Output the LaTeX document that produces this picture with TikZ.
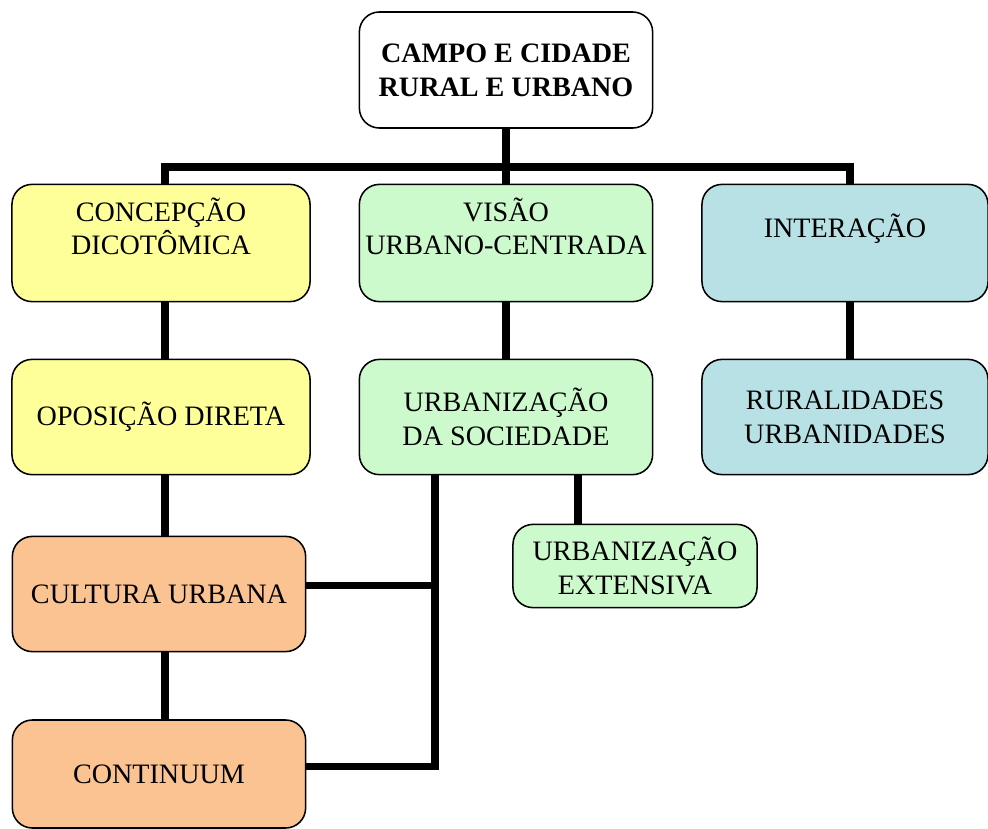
\documentclass[tikz,border=0pt]{standalone}
\usepackage{fontspec}
\setmainfont{Liberation Serif}
\usepackage{xcolor}
\usepackage{tikz}

\definecolor{amarelo}{RGB}{255,255,153}
\definecolor{verde}{RGB}{204,250,204}
\definecolor{azul}{RGB}{183,225,228}
\definecolor{laranja}{RGB}{250,195,145}

\begin{document}
\begin{tikzpicture}[x=0.025cm, y=-0.025cm,
    caixa/.style={draw=black, line width=1.1pt, rounded corners=0.5cm,
      align=center, inner sep=0pt, font=\fontsize{20}{24}\selectfont,
      minimum width=7.33cm, minimum height=2.88cm},
    liga/.style={line width=5pt}]
\useasboundingbox (0,0) rectangle (988,829);
% topo
\node[caixa, fill=white, font=\fontsize{20}{24}\selectfont\bfseries,
      minimum height=2.9cm] (topo) at (506,70) {CAMPO E CIDADE\\RURAL E URBANO};
% primeira linha
\node[caixa, fill=amarelo, minimum width=7.45cm, minimum height=2.93cm]
      (dicot) at (161,243) {CONCEPÇÃO\\DICOTÔMICA\\\mbox{}};
\node[caixa, fill=verde, minimum height=2.93cm]
      (visao) at (506,243) {VISÃO\\URBANO-CENTRADA\\\mbox{}};
\node[caixa, fill=azul, minimum width=7.15cm, minimum height=2.93cm]
      (inter) at (845,243) {INTERAÇÃO\\\mbox{}};
% segunda linha
\node[caixa, fill=amarelo, minimum width=7.45cm] (oposi) at (161,417) {OPOSIÇÃO DIRETA};
\node[caixa, fill=verde] (urbsoc) at (506,417) {URBANIZAÇÃO\\DA SOCIEDADE};
\node[caixa, fill=azul, minimum width=7.15cm] (rural) at (845,417) {RURALIDADES\\URBANIDADES};
% restantes
\node[caixa, fill=verde, minimum width=6.1cm, minimum height=2.08cm]
      (urbext) at (635,566) {URBANIZAÇÃO\\EXTENSIVA};
\node[caixa, fill=laranja] (cultura) at (159,594) {CULTURA URBANA};
\node[caixa, fill=laranja, minimum height=2.7cm] (contin) at (159,774) {CONTINUUM};

% ligacoes
\coordinate (barra) at (0,167);
\coordinate (col) at (165,0);
\coordinate (colb) at (850,0);
\coordinate (eixo) at (435,0);
\coordinate (desce) at (578,0);
\draw[liga] (topo.south) -- (visao.north);
\draw[liga] (dicot.north -| col) -- (col |- barra) -- (colb |- barra) -- (inter.north -| colb);
\draw[liga] (dicot.south -| col) -- (oposi.north -| col);
\draw[liga] (oposi.south -| col) -- (cultura.north -| col);
\draw[liga] (cultura.south -| col) -- (contin.north -| col);
\draw[liga] (visao) -- (urbsoc);
\draw[liga] (inter.south -| colb) -- (rural.north -| colb);
\draw[liga] (urbsoc.south -| desce) -- (urbext.north -| desce);
\draw[liga] (urbsoc.south -| eixo) |- ([yshift=5pt]contin.east);
\draw[liga] ([yshift=6pt]cultura.east) -- ([yshift=6pt]cultura.east -| eixo);
\end{tikzpicture}
\end{document}
